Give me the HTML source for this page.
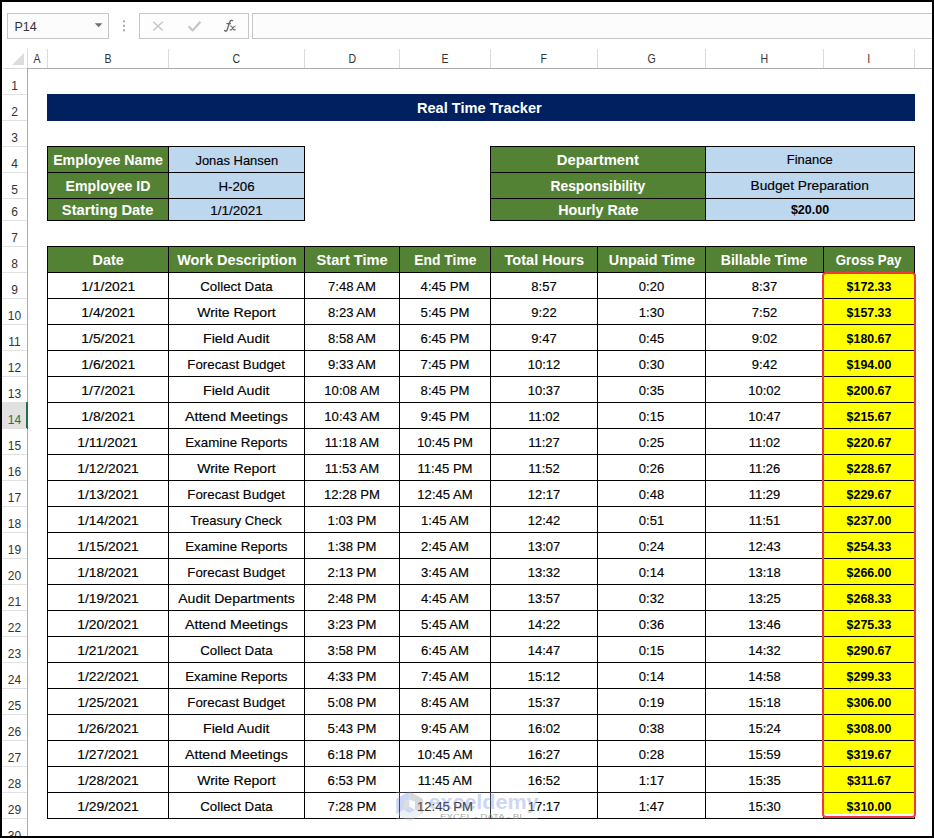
<!DOCTYPE html>
<html><head><meta charset="utf-8"><style>
html,body{margin:0;padding:0;}
body{width:934px;height:838px;overflow:hidden;position:relative;background:#fff;font-family:"Liberation Sans",sans-serif;}
body>div,body>svg{position:absolute;}
.t{line-height:1;white-space:nowrap;}
.r{-webkit-text-stroke:0.15px #000;}
</style></head><body>
<div style="left:7px;top:13px;width:100px;height:24px;border:1px solid #c6c6c6;background:#fcfcfc"></div>
<div class="t" style="left:14.5px;top:21px;width:45.5px;font-size:12.5px;color:#333;text-align:left;"><span style="display:inline-block;">P14</span></div>
<svg style="left:0;top:0" width="260" height="40"><path d="M94.8 23.3 L102.4 23.3 L98.6 27.3 Z" fill="#6f6f6f"/><rect x="123" y="20.3" width="2" height="2" fill="#a8a8a8"/><rect x="123" y="24.8" width="2" height="2" fill="#a8a8a8"/><rect x="123" y="29.3" width="2" height="2" fill="#a8a8a8"/></svg>
<div style="left:139px;top:13px;width:108px;height:24px;border:1px solid #c6c6c6;background:#fdfdfd"></div>
<svg style="left:0;top:0" width="260" height="40"><path d="M153.3 21.8 L162.8 30.5 M162.8 21.8 L153.3 30.5" stroke="#c6c6c6" stroke-width="1.5" fill="none"/><path d="M188.6 26.3 L192.6 30.4 L200.4 21.8" stroke="#c6c6c6" stroke-width="2.2" fill="none" stroke-linejoin="round"/><path d="M224.6 30.6 Q226.2 32.3 227.4 29.2 L229.6 22.3 Q230.6 19.6 232.6 20.6" stroke="#6a6a6a" stroke-width="1.4" fill="none" stroke-linecap="round"/><path d="M226.3 23.6 L230.9 23.6" stroke="#6a6a6a" stroke-width="1.2" fill="none"/><path d="M230.2 26.1 Q231.6 25.6 232.3 27.4 L233.2 29.3 Q234 30.3 235.6 29.4 M235.6 26.1 Q234.5 25.8 233.2 27.6 L231.6 29.5 Q230.8 30.3 229.7 29.8" stroke="#6a6a6a" stroke-width="1.1" fill="none"/></svg>
<div style="left:252px;top:13px;width:690px;height:24px;border:1px solid #c6c6c6;background:#fcfcfc"></div>
<div style="left:47px;top:49px;width:1px;height:19px;background:#dadada;"></div>
<div class="t" style="left:28px;top:53px;width:19px;font-size:12px;color:#333;text-align:center;"><span style="display:inline-block;transform:scaleX(0.88);">A</span></div>
<div style="left:168px;top:49px;width:1px;height:19px;background:#dadada;"></div>
<div class="t" style="left:48px;top:53px;width:120px;font-size:12px;color:#333;text-align:center;"><span style="display:inline-block;transform:scaleX(0.88);">B</span></div>
<div style="left:304px;top:49px;width:1px;height:19px;background:#dadada;"></div>
<div class="t" style="left:169px;top:53px;width:135px;font-size:12px;color:#333;text-align:center;"><span style="display:inline-block;transform:scaleX(0.88);">C</span></div>
<div style="left:399px;top:49px;width:1px;height:19px;background:#dadada;"></div>
<div class="t" style="left:305px;top:53px;width:94px;font-size:12px;color:#333;text-align:center;"><span style="display:inline-block;transform:scaleX(0.88);">D</span></div>
<div style="left:490px;top:49px;width:1px;height:19px;background:#dadada;"></div>
<div class="t" style="left:400px;top:53px;width:90px;font-size:12px;color:#333;text-align:center;"><span style="display:inline-block;transform:scaleX(0.88);">E</span></div>
<div style="left:597px;top:49px;width:1px;height:19px;background:#dadada;"></div>
<div class="t" style="left:491px;top:53px;width:106px;font-size:12px;color:#333;text-align:center;"><span style="display:inline-block;transform:scaleX(0.88);">F</span></div>
<div style="left:705px;top:49px;width:1px;height:19px;background:#dadada;"></div>
<div class="t" style="left:598px;top:53px;width:107px;font-size:12px;color:#333;text-align:center;"><span style="display:inline-block;transform:scaleX(0.88);">G</span></div>
<div style="left:823px;top:49px;width:1px;height:19px;background:#dadada;"></div>
<div class="t" style="left:706px;top:53px;width:117px;font-size:12px;color:#333;text-align:center;"><span style="display:inline-block;transform:scaleX(0.88);">H</span></div>
<div style="left:914px;top:49px;width:1px;height:19px;background:#dadada;"></div>
<div class="t" style="left:824px;top:53px;width:90px;font-size:12px;color:#333;text-align:center;"><span style="display:inline-block;transform:scaleX(0.88);">I</span></div>
<div style="left:27px;top:49px;width:1px;height:19px;background:#dadada;"></div>
<svg style="left:12px;top:53px" width="12" height="12"><path d="M12 0 L12 12 L0 12 Z" fill="#dcdcdc"/></svg>
<div style="left:3px;top:68px;width:24px;height:1px;background:#dadada;"></div>
<div style="left:27px;top:68px;width:905px;height:1px;background:#ababab;"></div>
<div style="left:27px;top:68px;width:1px;height:768px;background:#ababab;"></div>
<div class="t" style="left:2px;top:80px;width:25px;font-size:12px;color:#333;text-align:center;"><span style="display:inline-block;">1</span></div>
<div style="left:2px;top:94px;width:25px;height:1px;background:#e1e1e1;"></div>
<div class="t" style="left:2px;top:106px;width:25px;font-size:12px;color:#333;text-align:center;"><span style="display:inline-block;">2</span></div>
<div style="left:2px;top:120px;width:25px;height:1px;background:#e1e1e1;"></div>
<div class="t" style="left:2px;top:132px;width:25px;font-size:12px;color:#333;text-align:center;"><span style="display:inline-block;">3</span></div>
<div style="left:2px;top:146px;width:25px;height:1px;background:#e1e1e1;"></div>
<div class="t" style="left:2px;top:158px;width:25px;font-size:12px;color:#333;text-align:center;"><span style="display:inline-block;">4</span></div>
<div style="left:2px;top:172px;width:25px;height:1px;background:#e1e1e1;"></div>
<div class="t" style="left:2px;top:184px;width:25px;font-size:12px;color:#333;text-align:center;"><span style="display:inline-block;">5</span></div>
<div style="left:2px;top:198px;width:25px;height:1px;background:#e1e1e1;"></div>
<div class="t" style="left:2px;top:206px;width:25px;font-size:12px;color:#333;text-align:center;"><span style="display:inline-block;">6</span></div>
<div style="left:2px;top:220px;width:25px;height:1px;background:#e1e1e1;"></div>
<div class="t" style="left:2px;top:232px;width:25px;font-size:12px;color:#333;text-align:center;"><span style="display:inline-block;">7</span></div>
<div style="left:2px;top:246px;width:25px;height:1px;background:#e1e1e1;"></div>
<div class="t" style="left:2px;top:258px;width:25px;font-size:12px;color:#333;text-align:center;"><span style="display:inline-block;">8</span></div>
<div style="left:2px;top:272px;width:25px;height:1px;background:#e1e1e1;"></div>
<div class="t" style="left:2px;top:284px;width:25px;font-size:12px;color:#333;text-align:center;"><span style="display:inline-block;">9</span></div>
<div style="left:2px;top:298px;width:25px;height:1px;background:#e1e1e1;"></div>
<div class="t" style="left:2px;top:310px;width:25px;font-size:12px;color:#333;text-align:center;"><span style="display:inline-block;">10</span></div>
<div style="left:2px;top:324px;width:25px;height:1px;background:#e1e1e1;"></div>
<div class="t" style="left:2px;top:336px;width:25px;font-size:12px;color:#333;text-align:center;"><span style="display:inline-block;">11</span></div>
<div style="left:2px;top:350px;width:25px;height:1px;background:#e1e1e1;"></div>
<div class="t" style="left:2px;top:362px;width:25px;font-size:12px;color:#333;text-align:center;"><span style="display:inline-block;">12</span></div>
<div style="left:2px;top:376px;width:25px;height:1px;background:#e1e1e1;"></div>
<div class="t" style="left:2px;top:388px;width:25px;font-size:12px;color:#333;text-align:center;"><span style="display:inline-block;">13</span></div>
<div style="left:2px;top:402px;width:25px;height:1px;background:#e1e1e1;"></div>
<div style="left:2px;top:403px;width:24px;height:25px;background:#e1e1e1;"></div>
<div style="left:26px;top:402px;width:2px;height:27px;background:#217346;"></div>
<div class="t" style="left:2px;top:414px;width:25px;font-size:12px;color:#217346;text-align:center;"><span style="display:inline-block;">14</span></div>
<div style="left:2px;top:428px;width:25px;height:1px;background:#e1e1e1;"></div>
<div class="t" style="left:2px;top:440px;width:25px;font-size:12px;color:#333;text-align:center;"><span style="display:inline-block;">15</span></div>
<div style="left:2px;top:454px;width:25px;height:1px;background:#e1e1e1;"></div>
<div class="t" style="left:2px;top:466px;width:25px;font-size:12px;color:#333;text-align:center;"><span style="display:inline-block;">16</span></div>
<div style="left:2px;top:480px;width:25px;height:1px;background:#e1e1e1;"></div>
<div class="t" style="left:2px;top:492px;width:25px;font-size:12px;color:#333;text-align:center;"><span style="display:inline-block;">17</span></div>
<div style="left:2px;top:506px;width:25px;height:1px;background:#e1e1e1;"></div>
<div class="t" style="left:2px;top:518px;width:25px;font-size:12px;color:#333;text-align:center;"><span style="display:inline-block;">18</span></div>
<div style="left:2px;top:532px;width:25px;height:1px;background:#e1e1e1;"></div>
<div class="t" style="left:2px;top:544px;width:25px;font-size:12px;color:#333;text-align:center;"><span style="display:inline-block;">19</span></div>
<div style="left:2px;top:558px;width:25px;height:1px;background:#e1e1e1;"></div>
<div class="t" style="left:2px;top:570px;width:25px;font-size:12px;color:#333;text-align:center;"><span style="display:inline-block;">20</span></div>
<div style="left:2px;top:584px;width:25px;height:1px;background:#e1e1e1;"></div>
<div class="t" style="left:2px;top:596px;width:25px;font-size:12px;color:#333;text-align:center;"><span style="display:inline-block;">21</span></div>
<div style="left:2px;top:610px;width:25px;height:1px;background:#e1e1e1;"></div>
<div class="t" style="left:2px;top:622px;width:25px;font-size:12px;color:#333;text-align:center;"><span style="display:inline-block;">22</span></div>
<div style="left:2px;top:636px;width:25px;height:1px;background:#e1e1e1;"></div>
<div class="t" style="left:2px;top:648px;width:25px;font-size:12px;color:#333;text-align:center;"><span style="display:inline-block;">23</span></div>
<div style="left:2px;top:662px;width:25px;height:1px;background:#e1e1e1;"></div>
<div class="t" style="left:2px;top:674px;width:25px;font-size:12px;color:#333;text-align:center;"><span style="display:inline-block;">24</span></div>
<div style="left:2px;top:688px;width:25px;height:1px;background:#e1e1e1;"></div>
<div class="t" style="left:2px;top:700px;width:25px;font-size:12px;color:#333;text-align:center;"><span style="display:inline-block;">25</span></div>
<div style="left:2px;top:714px;width:25px;height:1px;background:#e1e1e1;"></div>
<div class="t" style="left:2px;top:726px;width:25px;font-size:12px;color:#333;text-align:center;"><span style="display:inline-block;">26</span></div>
<div style="left:2px;top:740px;width:25px;height:1px;background:#e1e1e1;"></div>
<div class="t" style="left:2px;top:752px;width:25px;font-size:12px;color:#333;text-align:center;"><span style="display:inline-block;">27</span></div>
<div style="left:2px;top:766px;width:25px;height:1px;background:#e1e1e1;"></div>
<div class="t" style="left:2px;top:778px;width:25px;font-size:12px;color:#333;text-align:center;"><span style="display:inline-block;">28</span></div>
<div style="left:2px;top:792px;width:25px;height:1px;background:#e1e1e1;"></div>
<div class="t" style="left:2px;top:804px;width:25px;font-size:12px;color:#333;text-align:center;"><span style="display:inline-block;">29</span></div>
<div style="left:2px;top:818px;width:25px;height:1px;background:#e1e1e1;"></div>
<div class="t" style="left:2px;top:830px;width:25px;font-size:12px;color:#333;text-align:center;"><span style="display:inline-block;">30</span></div>
<div style="left:2px;top:844px;width:25px;height:1px;background:#e1e1e1;"></div>
<div style="left:47px;top:94px;width:868px;height:27px;background:#002060;"></div>
<div class="t" style="left:45px;top:100px;width:868px;font-size:15.3px;font-weight:bold;color:#fff;text-align:center;"><span style="display:inline-block;transform:scaleX(0.955);">Real Time Tracker</span></div>
<div style="left:47px;top:146px;width:122px;height:27px;background:#000;"></div>
<div style="left:48px;top:147px;width:120px;height:25px;background:#548235;"></div>
<div class="t" style="left:48px;top:153px;width:120px;font-size:14.0px;font-weight:bold;color:#fff;text-align:center;"><span style="display:inline-block;transform:scaleX(1.016);">Employee Name</span></div>
<div style="left:168px;top:146px;width:137px;height:27px;background:#000;"></div>
<div style="left:169px;top:147px;width:135px;height:25px;background:#bdd7ee;"></div>
<div class="t r" style="left:169px;top:154px;width:135px;font-size:13.4px;color:#000;text-align:center;"><span style="display:inline-block;transform:scaleX(0.966);">Jonas Hansen</span></div>
<div style="left:47px;top:172px;width:122px;height:27px;background:#000;"></div>
<div style="left:48px;top:173px;width:120px;height:25px;background:#548235;"></div>
<div class="t" style="left:48px;top:179px;width:120px;font-size:14.0px;font-weight:bold;color:#fff;text-align:center;"><span style="display:inline-block;transform:scaleX(1.01);">Employee ID</span></div>
<div style="left:168px;top:172px;width:137px;height:27px;background:#000;"></div>
<div style="left:169px;top:173px;width:135px;height:25px;background:#bdd7ee;"></div>
<div class="t r" style="left:169px;top:180px;width:135px;font-size:13.3px;color:#000;text-align:center;"><span style="display:inline-block;">H-206</span></div>
<div style="left:47px;top:198px;width:122px;height:23px;background:#000;"></div>
<div style="left:48px;top:199px;width:120px;height:21px;background:#548235;"></div>
<div class="t" style="left:48px;top:203px;width:120px;font-size:14.0px;font-weight:bold;color:#fff;text-align:center;"><span style="display:inline-block;transform:scaleX(1.05);">Starting Date</span></div>
<div style="left:168px;top:198px;width:137px;height:23px;background:#000;"></div>
<div style="left:169px;top:199px;width:135px;height:21px;background:#bdd7ee;"></div>
<div class="t r" style="left:169px;top:204px;width:135px;font-size:13.5px;color:#000;text-align:center;"><span style="display:inline-block;">1/1/2021</span></div>
<div style="left:490px;top:146px;width:216px;height:27px;background:#000;"></div>
<div style="left:491px;top:147px;width:214px;height:25px;background:#548235;"></div>
<div class="t" style="left:491px;top:153px;width:214px;font-size:14.0px;font-weight:bold;color:#fff;text-align:center;"><span style="display:inline-block;transform:scaleX(1.056);">Department</span></div>
<div style="left:705px;top:146px;width:210px;height:27px;background:#000;"></div>
<div style="left:706px;top:147px;width:208px;height:25px;background:#bdd7ee;"></div>
<div class="t r" style="left:706px;top:153px;width:208px;font-size:13.4px;color:#000;text-align:center;"><span style="display:inline-block;transform:scaleX(0.965);">Finance</span></div>
<div style="left:490px;top:172px;width:216px;height:27px;background:#000;"></div>
<div style="left:491px;top:173px;width:214px;height:25px;background:#548235;"></div>
<div class="t" style="left:491px;top:179px;width:214px;font-size:14.0px;font-weight:bold;color:#fff;text-align:center;"><span style="display:inline-block;transform:scaleX(0.992);">Responsibility</span></div>
<div style="left:705px;top:172px;width:210px;height:27px;background:#000;"></div>
<div style="left:706px;top:173px;width:208px;height:25px;background:#bdd7ee;"></div>
<div class="t r" style="left:706px;top:179px;width:208px;font-size:13.4px;color:#000;text-align:center;"><span style="display:inline-block;transform:scaleX(1.025);">Budget Preparation</span></div>
<div style="left:490px;top:198px;width:216px;height:23px;background:#000;"></div>
<div style="left:491px;top:199px;width:214px;height:21px;background:#548235;"></div>
<div class="t" style="left:491px;top:203px;width:214px;font-size:14.0px;font-weight:bold;color:#fff;text-align:center;"><span style="display:inline-block;transform:scaleX(1.022);">Hourly Rate</span></div>
<div style="left:705px;top:198px;width:210px;height:23px;background:#000;"></div>
<div style="left:706px;top:199px;width:208px;height:21px;background:#bdd7ee;"></div>
<div class="t" style="left:706px;top:204px;width:208px;font-size:12.5px;font-weight:bold;color:#000;text-align:center;"><span style="display:inline-block;">$20.00</span></div>
<div style="left:47px;top:246px;width:122px;height:27px;background:#000;"></div>
<div style="left:48px;top:247px;width:120px;height:25px;background:#548235;"></div>
<div class="t" style="left:48px;top:253px;width:120px;font-size:14.0px;font-weight:bold;color:#fff;text-align:center;"><span style="display:inline-block;transform:scaleX(1.025);">Date</span></div>
<div style="left:168px;top:246px;width:137px;height:27px;background:#000;"></div>
<div style="left:169px;top:247px;width:135px;height:25px;background:#548235;"></div>
<div class="t" style="left:169px;top:253px;width:135px;font-size:14.0px;font-weight:bold;color:#fff;text-align:center;"><span style="display:inline-block;transform:scaleX(1.032);">Work Description</span></div>
<div style="left:304px;top:246px;width:96px;height:27px;background:#000;"></div>
<div style="left:305px;top:247px;width:94px;height:25px;background:#548235;"></div>
<div class="t" style="left:305px;top:253px;width:94px;font-size:14.0px;font-weight:bold;color:#fff;text-align:center;"><span style="display:inline-block;transform:scaleX(1.042);">Start Time</span></div>
<div style="left:399px;top:246px;width:92px;height:27px;background:#000;"></div>
<div style="left:400px;top:247px;width:90px;height:25px;background:#548235;"></div>
<div class="t" style="left:400px;top:253px;width:90px;font-size:14.0px;font-weight:bold;color:#fff;text-align:center;"><span style="display:inline-block;transform:scaleX(0.99);">End Time</span></div>
<div style="left:490px;top:246px;width:108px;height:27px;background:#000;"></div>
<div style="left:491px;top:247px;width:106px;height:25px;background:#548235;"></div>
<div class="t" style="left:491px;top:253px;width:106px;font-size:14.0px;font-weight:bold;color:#fff;text-align:center;"><span style="display:inline-block;transform:scaleX(1.037);">Total Hours</span></div>
<div style="left:597px;top:246px;width:109px;height:27px;background:#000;"></div>
<div style="left:598px;top:247px;width:107px;height:25px;background:#548235;"></div>
<div class="t" style="left:598px;top:253px;width:107px;font-size:14.0px;font-weight:bold;color:#fff;text-align:center;"><span style="display:inline-block;transform:scaleX(1.027);">Unpaid Time</span></div>
<div style="left:705px;top:246px;width:119px;height:27px;background:#000;"></div>
<div style="left:706px;top:247px;width:117px;height:25px;background:#548235;"></div>
<div class="t" style="left:706px;top:253px;width:117px;font-size:14.0px;font-weight:bold;color:#fff;text-align:center;"><span style="display:inline-block;transform:scaleX(1.005);">Billable Time</span></div>
<div style="left:823px;top:246px;width:92px;height:27px;background:#000;"></div>
<div style="left:824px;top:247px;width:90px;height:25px;background:#548235;"></div>
<div class="t" style="left:824px;top:253px;width:90px;font-size:14.0px;font-weight:bold;color:#fff;text-align:center;"><span style="display:inline-block;transform:scaleX(0.948);">Gross Pay</span></div>
<div style="left:824px;top:273px;width:90px;height:25px;background:#ffff00;"></div>
<div style="left:824px;top:299px;width:90px;height:25px;background:#ffff00;"></div>
<div style="left:824px;top:325px;width:90px;height:25px;background:#ffff00;"></div>
<div style="left:824px;top:351px;width:90px;height:25px;background:#ffff00;"></div>
<div style="left:824px;top:377px;width:90px;height:25px;background:#ffff00;"></div>
<div style="left:824px;top:403px;width:90px;height:25px;background:#ffff00;"></div>
<div style="left:824px;top:429px;width:90px;height:25px;background:#ffff00;"></div>
<div style="left:824px;top:455px;width:90px;height:25px;background:#ffff00;"></div>
<div style="left:824px;top:481px;width:90px;height:25px;background:#ffff00;"></div>
<div style="left:824px;top:507px;width:90px;height:25px;background:#ffff00;"></div>
<div style="left:824px;top:533px;width:90px;height:25px;background:#ffff00;"></div>
<div style="left:824px;top:559px;width:90px;height:25px;background:#ffff00;"></div>
<div style="left:824px;top:585px;width:90px;height:25px;background:#ffff00;"></div>
<div style="left:824px;top:611px;width:90px;height:25px;background:#ffff00;"></div>
<div style="left:824px;top:637px;width:90px;height:25px;background:#ffff00;"></div>
<div style="left:824px;top:663px;width:90px;height:25px;background:#ffff00;"></div>
<div style="left:824px;top:689px;width:90px;height:25px;background:#ffff00;"></div>
<div style="left:824px;top:715px;width:90px;height:25px;background:#ffff00;"></div>
<div style="left:824px;top:741px;width:90px;height:25px;background:#ffff00;"></div>
<div style="left:824px;top:767px;width:90px;height:25px;background:#ffff00;"></div>
<div style="left:824px;top:793px;width:90px;height:21px;background:#ffff00;"></div>
<div style="left:47px;top:298px;width:868px;height:1px;background:#000;"></div>
<div style="left:47px;top:324px;width:868px;height:1px;background:#000;"></div>
<div style="left:47px;top:350px;width:868px;height:1px;background:#000;"></div>
<div style="left:47px;top:376px;width:868px;height:1px;background:#000;"></div>
<div style="left:47px;top:402px;width:868px;height:1px;background:#000;"></div>
<div style="left:47px;top:428px;width:868px;height:1px;background:#000;"></div>
<div style="left:47px;top:454px;width:868px;height:1px;background:#000;"></div>
<div style="left:47px;top:480px;width:868px;height:1px;background:#000;"></div>
<div style="left:47px;top:506px;width:868px;height:1px;background:#000;"></div>
<div style="left:47px;top:532px;width:868px;height:1px;background:#000;"></div>
<div style="left:47px;top:558px;width:868px;height:1px;background:#000;"></div>
<div style="left:47px;top:584px;width:868px;height:1px;background:#000;"></div>
<div style="left:47px;top:610px;width:868px;height:1px;background:#000;"></div>
<div style="left:47px;top:636px;width:868px;height:1px;background:#000;"></div>
<div style="left:47px;top:662px;width:868px;height:1px;background:#000;"></div>
<div style="left:47px;top:688px;width:868px;height:1px;background:#000;"></div>
<div style="left:47px;top:714px;width:868px;height:1px;background:#000;"></div>
<div style="left:47px;top:740px;width:868px;height:1px;background:#000;"></div>
<div style="left:47px;top:766px;width:868px;height:1px;background:#000;"></div>
<div style="left:47px;top:792px;width:868px;height:1px;background:#000;"></div>
<div style="left:47px;top:818px;width:868px;height:1px;background:#000;"></div>
<div style="left:47px;top:272px;width:1px;height:547px;background:#000;"></div>
<div style="left:168px;top:272px;width:1px;height:547px;background:#000;"></div>
<div style="left:304px;top:272px;width:1px;height:547px;background:#000;"></div>
<div style="left:399px;top:272px;width:1px;height:547px;background:#000;"></div>
<div style="left:490px;top:272px;width:1px;height:547px;background:#000;"></div>
<div style="left:597px;top:272px;width:1px;height:547px;background:#000;"></div>
<div style="left:705px;top:272px;width:1px;height:547px;background:#000;"></div>
<div style="left:823px;top:272px;width:1px;height:547px;background:#000;"></div>
<div style="left:914px;top:272px;width:1px;height:547px;background:#000;"></div>
<div class="t r" style="left:48px;top:280px;width:120px;font-size:13.5px;color:#000;text-align:center;"><span style="display:inline-block;transform:scaleX(1.025);">1/1/2021</span></div>
<div class="t r" style="left:169px;top:280px;width:135px;font-size:13.4px;color:#000;text-align:center;"><span style="display:inline-block;transform:scaleX(0.993);">Collect Data</span></div>
<div class="t r" style="left:305px;top:280px;width:94px;font-size:13.1px;color:#000;text-align:center;"><span style="display:inline-block;">7:48 AM</span></div>
<div class="t r" style="left:400px;top:280px;width:90px;font-size:13.1px;color:#000;text-align:center;"><span style="display:inline-block;">4:45 PM</span></div>
<div class="t r" style="left:491px;top:280px;width:106px;font-size:13.0px;color:#000;text-align:center;"><span style="display:inline-block;">8:57</span></div>
<div class="t r" style="left:598px;top:280px;width:107px;font-size:13.0px;color:#000;text-align:center;"><span style="display:inline-block;">0:20</span></div>
<div class="t r" style="left:706px;top:280px;width:117px;font-size:13.0px;color:#000;text-align:center;"><span style="display:inline-block;">8:37</span></div>
<div class="t" style="left:824px;top:281px;width:90px;font-size:12.4px;font-weight:bold;color:#000;text-align:center;"><span style="display:inline-block;">$172.33</span></div>
<div class="t r" style="left:48px;top:306px;width:120px;font-size:13.5px;color:#000;text-align:center;"><span style="display:inline-block;transform:scaleX(1.025);">1/4/2021</span></div>
<div class="t r" style="left:169px;top:306px;width:135px;font-size:13.4px;color:#000;text-align:center;"><span style="display:inline-block;transform:scaleX(1.049);">Write Report</span></div>
<div class="t r" style="left:305px;top:306px;width:94px;font-size:13.1px;color:#000;text-align:center;"><span style="display:inline-block;">8:23 AM</span></div>
<div class="t r" style="left:400px;top:306px;width:90px;font-size:13.1px;color:#000;text-align:center;"><span style="display:inline-block;">5:45 PM</span></div>
<div class="t r" style="left:491px;top:306px;width:106px;font-size:13.0px;color:#000;text-align:center;"><span style="display:inline-block;">9:22</span></div>
<div class="t r" style="left:598px;top:306px;width:107px;font-size:13.0px;color:#000;text-align:center;"><span style="display:inline-block;">1:30</span></div>
<div class="t r" style="left:706px;top:306px;width:117px;font-size:13.0px;color:#000;text-align:center;"><span style="display:inline-block;">7:52</span></div>
<div class="t" style="left:824px;top:307px;width:90px;font-size:12.4px;font-weight:bold;color:#000;text-align:center;"><span style="display:inline-block;">$157.33</span></div>
<div class="t r" style="left:48px;top:332px;width:120px;font-size:13.5px;color:#000;text-align:center;"><span style="display:inline-block;transform:scaleX(1.025);">1/5/2021</span></div>
<div class="t r" style="left:169px;top:332px;width:135px;font-size:13.4px;color:#000;text-align:center;"><span style="display:inline-block;transform:scaleX(1.064);">Field Audit</span></div>
<div class="t r" style="left:305px;top:332px;width:94px;font-size:13.1px;color:#000;text-align:center;"><span style="display:inline-block;">8:58 AM</span></div>
<div class="t r" style="left:400px;top:332px;width:90px;font-size:13.1px;color:#000;text-align:center;"><span style="display:inline-block;">6:45 PM</span></div>
<div class="t r" style="left:491px;top:332px;width:106px;font-size:13.0px;color:#000;text-align:center;"><span style="display:inline-block;">9:47</span></div>
<div class="t r" style="left:598px;top:332px;width:107px;font-size:13.0px;color:#000;text-align:center;"><span style="display:inline-block;">0:45</span></div>
<div class="t r" style="left:706px;top:332px;width:117px;font-size:13.0px;color:#000;text-align:center;"><span style="display:inline-block;">9:02</span></div>
<div class="t" style="left:824px;top:333px;width:90px;font-size:12.4px;font-weight:bold;color:#000;text-align:center;"><span style="display:inline-block;">$180.67</span></div>
<div class="t r" style="left:48px;top:358px;width:120px;font-size:13.5px;color:#000;text-align:center;"><span style="display:inline-block;transform:scaleX(1.025);">1/6/2021</span></div>
<div class="t r" style="left:169px;top:358px;width:135px;font-size:13.4px;color:#000;text-align:center;"><span style="display:inline-block;transform:scaleX(0.994);">Forecast Budget</span></div>
<div class="t r" style="left:305px;top:358px;width:94px;font-size:13.1px;color:#000;text-align:center;"><span style="display:inline-block;">9:33 AM</span></div>
<div class="t r" style="left:400px;top:358px;width:90px;font-size:13.1px;color:#000;text-align:center;"><span style="display:inline-block;">7:45 PM</span></div>
<div class="t r" style="left:491px;top:358px;width:106px;font-size:13.0px;color:#000;text-align:center;"><span style="display:inline-block;">10:12</span></div>
<div class="t r" style="left:598px;top:358px;width:107px;font-size:13.0px;color:#000;text-align:center;"><span style="display:inline-block;">0:30</span></div>
<div class="t r" style="left:706px;top:358px;width:117px;font-size:13.0px;color:#000;text-align:center;"><span style="display:inline-block;">9:42</span></div>
<div class="t" style="left:824px;top:359px;width:90px;font-size:12.4px;font-weight:bold;color:#000;text-align:center;"><span style="display:inline-block;">$194.00</span></div>
<div class="t r" style="left:48px;top:384px;width:120px;font-size:13.5px;color:#000;text-align:center;"><span style="display:inline-block;transform:scaleX(1.025);">1/7/2021</span></div>
<div class="t r" style="left:169px;top:384px;width:135px;font-size:13.4px;color:#000;text-align:center;"><span style="display:inline-block;transform:scaleX(1.064);">Field Audit</span></div>
<div class="t r" style="left:305px;top:384px;width:94px;font-size:13.1px;color:#000;text-align:center;"><span style="display:inline-block;">10:08 AM</span></div>
<div class="t r" style="left:400px;top:384px;width:90px;font-size:13.1px;color:#000;text-align:center;"><span style="display:inline-block;">8:45 PM</span></div>
<div class="t r" style="left:491px;top:384px;width:106px;font-size:13.0px;color:#000;text-align:center;"><span style="display:inline-block;">10:37</span></div>
<div class="t r" style="left:598px;top:384px;width:107px;font-size:13.0px;color:#000;text-align:center;"><span style="display:inline-block;">0:35</span></div>
<div class="t r" style="left:706px;top:384px;width:117px;font-size:13.0px;color:#000;text-align:center;"><span style="display:inline-block;">10:02</span></div>
<div class="t" style="left:824px;top:385px;width:90px;font-size:12.4px;font-weight:bold;color:#000;text-align:center;"><span style="display:inline-block;">$200.67</span></div>
<div class="t r" style="left:48px;top:410px;width:120px;font-size:13.5px;color:#000;text-align:center;"><span style="display:inline-block;transform:scaleX(1.025);">1/8/2021</span></div>
<div class="t r" style="left:169px;top:410px;width:135px;font-size:13.4px;color:#000;text-align:center;"><span style="display:inline-block;transform:scaleX(1.063);">Attend Meetings</span></div>
<div class="t r" style="left:305px;top:410px;width:94px;font-size:13.1px;color:#000;text-align:center;"><span style="display:inline-block;">10:43 AM</span></div>
<div class="t r" style="left:400px;top:410px;width:90px;font-size:13.1px;color:#000;text-align:center;"><span style="display:inline-block;">9:45 PM</span></div>
<div class="t r" style="left:491px;top:410px;width:106px;font-size:13.0px;color:#000;text-align:center;"><span style="display:inline-block;">11:02</span></div>
<div class="t r" style="left:598px;top:410px;width:107px;font-size:13.0px;color:#000;text-align:center;"><span style="display:inline-block;">0:15</span></div>
<div class="t r" style="left:706px;top:410px;width:117px;font-size:13.0px;color:#000;text-align:center;"><span style="display:inline-block;">10:47</span></div>
<div class="t" style="left:824px;top:411px;width:90px;font-size:12.4px;font-weight:bold;color:#000;text-align:center;"><span style="display:inline-block;">$215.67</span></div>
<div class="t r" style="left:48px;top:436px;width:120px;font-size:13.5px;color:#000;text-align:center;"><span style="display:inline-block;transform:scaleX(1.025);">1/11/2021</span></div>
<div class="t r" style="left:169px;top:436px;width:135px;font-size:13.4px;color:#000;text-align:center;"><span style="display:inline-block;transform:scaleX(0.996);">Examine Reports</span></div>
<div class="t r" style="left:305px;top:436px;width:94px;font-size:13.1px;color:#000;text-align:center;"><span style="display:inline-block;">11:18 AM</span></div>
<div class="t r" style="left:400px;top:436px;width:90px;font-size:13.1px;color:#000;text-align:center;"><span style="display:inline-block;">10:45 PM</span></div>
<div class="t r" style="left:491px;top:436px;width:106px;font-size:13.0px;color:#000;text-align:center;"><span style="display:inline-block;">11:27</span></div>
<div class="t r" style="left:598px;top:436px;width:107px;font-size:13.0px;color:#000;text-align:center;"><span style="display:inline-block;">0:25</span></div>
<div class="t r" style="left:706px;top:436px;width:117px;font-size:13.0px;color:#000;text-align:center;"><span style="display:inline-block;">11:02</span></div>
<div class="t" style="left:824px;top:437px;width:90px;font-size:12.4px;font-weight:bold;color:#000;text-align:center;"><span style="display:inline-block;">$220.67</span></div>
<div class="t r" style="left:48px;top:462px;width:120px;font-size:13.5px;color:#000;text-align:center;"><span style="display:inline-block;transform:scaleX(1.025);">1/12/2021</span></div>
<div class="t r" style="left:169px;top:462px;width:135px;font-size:13.4px;color:#000;text-align:center;"><span style="display:inline-block;transform:scaleX(1.049);">Write Report</span></div>
<div class="t r" style="left:305px;top:462px;width:94px;font-size:13.1px;color:#000;text-align:center;"><span style="display:inline-block;">11:53 AM</span></div>
<div class="t r" style="left:400px;top:462px;width:90px;font-size:13.1px;color:#000;text-align:center;"><span style="display:inline-block;">11:45 PM</span></div>
<div class="t r" style="left:491px;top:462px;width:106px;font-size:13.0px;color:#000;text-align:center;"><span style="display:inline-block;">11:52</span></div>
<div class="t r" style="left:598px;top:462px;width:107px;font-size:13.0px;color:#000;text-align:center;"><span style="display:inline-block;">0:26</span></div>
<div class="t r" style="left:706px;top:462px;width:117px;font-size:13.0px;color:#000;text-align:center;"><span style="display:inline-block;">11:26</span></div>
<div class="t" style="left:824px;top:463px;width:90px;font-size:12.4px;font-weight:bold;color:#000;text-align:center;"><span style="display:inline-block;">$228.67</span></div>
<div class="t r" style="left:48px;top:488px;width:120px;font-size:13.5px;color:#000;text-align:center;"><span style="display:inline-block;transform:scaleX(1.025);">1/13/2021</span></div>
<div class="t r" style="left:169px;top:488px;width:135px;font-size:13.4px;color:#000;text-align:center;"><span style="display:inline-block;transform:scaleX(0.994);">Forecast Budget</span></div>
<div class="t r" style="left:305px;top:488px;width:94px;font-size:13.1px;color:#000;text-align:center;"><span style="display:inline-block;">12:28 PM</span></div>
<div class="t r" style="left:400px;top:488px;width:90px;font-size:13.1px;color:#000;text-align:center;"><span style="display:inline-block;">12:45 AM</span></div>
<div class="t r" style="left:491px;top:488px;width:106px;font-size:13.0px;color:#000;text-align:center;"><span style="display:inline-block;">12:17</span></div>
<div class="t r" style="left:598px;top:488px;width:107px;font-size:13.0px;color:#000;text-align:center;"><span style="display:inline-block;">0:48</span></div>
<div class="t r" style="left:706px;top:488px;width:117px;font-size:13.0px;color:#000;text-align:center;"><span style="display:inline-block;">11:29</span></div>
<div class="t" style="left:824px;top:489px;width:90px;font-size:12.4px;font-weight:bold;color:#000;text-align:center;"><span style="display:inline-block;">$229.67</span></div>
<div class="t r" style="left:48px;top:514px;width:120px;font-size:13.5px;color:#000;text-align:center;"><span style="display:inline-block;transform:scaleX(1.025);">1/14/2021</span></div>
<div class="t r" style="left:169px;top:514px;width:135px;font-size:13.4px;color:#000;text-align:center;"><span style="display:inline-block;transform:scaleX(0.973);">Treasury Check</span></div>
<div class="t r" style="left:305px;top:514px;width:94px;font-size:13.1px;color:#000;text-align:center;"><span style="display:inline-block;">1:03 PM</span></div>
<div class="t r" style="left:400px;top:514px;width:90px;font-size:13.1px;color:#000;text-align:center;"><span style="display:inline-block;">1:45 AM</span></div>
<div class="t r" style="left:491px;top:514px;width:106px;font-size:13.0px;color:#000;text-align:center;"><span style="display:inline-block;">12:42</span></div>
<div class="t r" style="left:598px;top:514px;width:107px;font-size:13.0px;color:#000;text-align:center;"><span style="display:inline-block;">0:51</span></div>
<div class="t r" style="left:706px;top:514px;width:117px;font-size:13.0px;color:#000;text-align:center;"><span style="display:inline-block;">11:51</span></div>
<div class="t" style="left:824px;top:515px;width:90px;font-size:12.4px;font-weight:bold;color:#000;text-align:center;"><span style="display:inline-block;">$237.00</span></div>
<div class="t r" style="left:48px;top:540px;width:120px;font-size:13.5px;color:#000;text-align:center;"><span style="display:inline-block;transform:scaleX(1.025);">1/15/2021</span></div>
<div class="t r" style="left:169px;top:540px;width:135px;font-size:13.4px;color:#000;text-align:center;"><span style="display:inline-block;transform:scaleX(0.996);">Examine Reports</span></div>
<div class="t r" style="left:305px;top:540px;width:94px;font-size:13.1px;color:#000;text-align:center;"><span style="display:inline-block;">1:38 PM</span></div>
<div class="t r" style="left:400px;top:540px;width:90px;font-size:13.1px;color:#000;text-align:center;"><span style="display:inline-block;">2:45 AM</span></div>
<div class="t r" style="left:491px;top:540px;width:106px;font-size:13.0px;color:#000;text-align:center;"><span style="display:inline-block;">13:07</span></div>
<div class="t r" style="left:598px;top:540px;width:107px;font-size:13.0px;color:#000;text-align:center;"><span style="display:inline-block;">0:24</span></div>
<div class="t r" style="left:706px;top:540px;width:117px;font-size:13.0px;color:#000;text-align:center;"><span style="display:inline-block;">12:43</span></div>
<div class="t" style="left:824px;top:541px;width:90px;font-size:12.4px;font-weight:bold;color:#000;text-align:center;"><span style="display:inline-block;">$254.33</span></div>
<div class="t r" style="left:48px;top:566px;width:120px;font-size:13.5px;color:#000;text-align:center;"><span style="display:inline-block;transform:scaleX(1.025);">1/18/2021</span></div>
<div class="t r" style="left:169px;top:566px;width:135px;font-size:13.4px;color:#000;text-align:center;"><span style="display:inline-block;transform:scaleX(0.994);">Forecast Budget</span></div>
<div class="t r" style="left:305px;top:566px;width:94px;font-size:13.1px;color:#000;text-align:center;"><span style="display:inline-block;">2:13 PM</span></div>
<div class="t r" style="left:400px;top:566px;width:90px;font-size:13.1px;color:#000;text-align:center;"><span style="display:inline-block;">3:45 AM</span></div>
<div class="t r" style="left:491px;top:566px;width:106px;font-size:13.0px;color:#000;text-align:center;"><span style="display:inline-block;">13:32</span></div>
<div class="t r" style="left:598px;top:566px;width:107px;font-size:13.0px;color:#000;text-align:center;"><span style="display:inline-block;">0:14</span></div>
<div class="t r" style="left:706px;top:566px;width:117px;font-size:13.0px;color:#000;text-align:center;"><span style="display:inline-block;">13:18</span></div>
<div class="t" style="left:824px;top:567px;width:90px;font-size:12.4px;font-weight:bold;color:#000;text-align:center;"><span style="display:inline-block;">$266.00</span></div>
<div class="t r" style="left:48px;top:592px;width:120px;font-size:13.5px;color:#000;text-align:center;"><span style="display:inline-block;transform:scaleX(1.025);">1/19/2021</span></div>
<div class="t r" style="left:169px;top:592px;width:135px;font-size:13.4px;color:#000;text-align:center;"><span style="display:inline-block;transform:scaleX(1.05);">Audit Departments</span></div>
<div class="t r" style="left:305px;top:592px;width:94px;font-size:13.1px;color:#000;text-align:center;"><span style="display:inline-block;">2:48 PM</span></div>
<div class="t r" style="left:400px;top:592px;width:90px;font-size:13.1px;color:#000;text-align:center;"><span style="display:inline-block;">4:45 AM</span></div>
<div class="t r" style="left:491px;top:592px;width:106px;font-size:13.0px;color:#000;text-align:center;"><span style="display:inline-block;">13:57</span></div>
<div class="t r" style="left:598px;top:592px;width:107px;font-size:13.0px;color:#000;text-align:center;"><span style="display:inline-block;">0:32</span></div>
<div class="t r" style="left:706px;top:592px;width:117px;font-size:13.0px;color:#000;text-align:center;"><span style="display:inline-block;">13:25</span></div>
<div class="t" style="left:824px;top:593px;width:90px;font-size:12.4px;font-weight:bold;color:#000;text-align:center;"><span style="display:inline-block;">$268.33</span></div>
<div class="t r" style="left:48px;top:618px;width:120px;font-size:13.5px;color:#000;text-align:center;"><span style="display:inline-block;transform:scaleX(1.025);">1/20/2021</span></div>
<div class="t r" style="left:169px;top:618px;width:135px;font-size:13.4px;color:#000;text-align:center;"><span style="display:inline-block;transform:scaleX(1.063);">Attend Meetings</span></div>
<div class="t r" style="left:305px;top:618px;width:94px;font-size:13.1px;color:#000;text-align:center;"><span style="display:inline-block;">3:23 PM</span></div>
<div class="t r" style="left:400px;top:618px;width:90px;font-size:13.1px;color:#000;text-align:center;"><span style="display:inline-block;">5:45 AM</span></div>
<div class="t r" style="left:491px;top:618px;width:106px;font-size:13.0px;color:#000;text-align:center;"><span style="display:inline-block;">14:22</span></div>
<div class="t r" style="left:598px;top:618px;width:107px;font-size:13.0px;color:#000;text-align:center;"><span style="display:inline-block;">0:36</span></div>
<div class="t r" style="left:706px;top:618px;width:117px;font-size:13.0px;color:#000;text-align:center;"><span style="display:inline-block;">13:46</span></div>
<div class="t" style="left:824px;top:619px;width:90px;font-size:12.4px;font-weight:bold;color:#000;text-align:center;"><span style="display:inline-block;">$275.33</span></div>
<div class="t r" style="left:48px;top:644px;width:120px;font-size:13.5px;color:#000;text-align:center;"><span style="display:inline-block;transform:scaleX(1.025);">1/21/2021</span></div>
<div class="t r" style="left:169px;top:644px;width:135px;font-size:13.4px;color:#000;text-align:center;"><span style="display:inline-block;transform:scaleX(0.993);">Collect Data</span></div>
<div class="t r" style="left:305px;top:644px;width:94px;font-size:13.1px;color:#000;text-align:center;"><span style="display:inline-block;">3:58 PM</span></div>
<div class="t r" style="left:400px;top:644px;width:90px;font-size:13.1px;color:#000;text-align:center;"><span style="display:inline-block;">6:45 AM</span></div>
<div class="t r" style="left:491px;top:644px;width:106px;font-size:13.0px;color:#000;text-align:center;"><span style="display:inline-block;">14:47</span></div>
<div class="t r" style="left:598px;top:644px;width:107px;font-size:13.0px;color:#000;text-align:center;"><span style="display:inline-block;">0:15</span></div>
<div class="t r" style="left:706px;top:644px;width:117px;font-size:13.0px;color:#000;text-align:center;"><span style="display:inline-block;">14:32</span></div>
<div class="t" style="left:824px;top:645px;width:90px;font-size:12.4px;font-weight:bold;color:#000;text-align:center;"><span style="display:inline-block;">$290.67</span></div>
<div class="t r" style="left:48px;top:670px;width:120px;font-size:13.5px;color:#000;text-align:center;"><span style="display:inline-block;transform:scaleX(1.025);">1/22/2021</span></div>
<div class="t r" style="left:169px;top:670px;width:135px;font-size:13.4px;color:#000;text-align:center;"><span style="display:inline-block;transform:scaleX(0.996);">Examine Reports</span></div>
<div class="t r" style="left:305px;top:670px;width:94px;font-size:13.1px;color:#000;text-align:center;"><span style="display:inline-block;">4:33 PM</span></div>
<div class="t r" style="left:400px;top:670px;width:90px;font-size:13.1px;color:#000;text-align:center;"><span style="display:inline-block;">7:45 AM</span></div>
<div class="t r" style="left:491px;top:670px;width:106px;font-size:13.0px;color:#000;text-align:center;"><span style="display:inline-block;">15:12</span></div>
<div class="t r" style="left:598px;top:670px;width:107px;font-size:13.0px;color:#000;text-align:center;"><span style="display:inline-block;">0:14</span></div>
<div class="t r" style="left:706px;top:670px;width:117px;font-size:13.0px;color:#000;text-align:center;"><span style="display:inline-block;">14:58</span></div>
<div class="t" style="left:824px;top:671px;width:90px;font-size:12.4px;font-weight:bold;color:#000;text-align:center;"><span style="display:inline-block;">$299.33</span></div>
<div class="t r" style="left:48px;top:696px;width:120px;font-size:13.5px;color:#000;text-align:center;"><span style="display:inline-block;transform:scaleX(1.025);">1/25/2021</span></div>
<div class="t r" style="left:169px;top:696px;width:135px;font-size:13.4px;color:#000;text-align:center;"><span style="display:inline-block;transform:scaleX(0.994);">Forecast Budget</span></div>
<div class="t r" style="left:305px;top:696px;width:94px;font-size:13.1px;color:#000;text-align:center;"><span style="display:inline-block;">5:08 PM</span></div>
<div class="t r" style="left:400px;top:696px;width:90px;font-size:13.1px;color:#000;text-align:center;"><span style="display:inline-block;">8:45 AM</span></div>
<div class="t r" style="left:491px;top:696px;width:106px;font-size:13.0px;color:#000;text-align:center;"><span style="display:inline-block;">15:37</span></div>
<div class="t r" style="left:598px;top:696px;width:107px;font-size:13.0px;color:#000;text-align:center;"><span style="display:inline-block;">0:19</span></div>
<div class="t r" style="left:706px;top:696px;width:117px;font-size:13.0px;color:#000;text-align:center;"><span style="display:inline-block;">15:18</span></div>
<div class="t" style="left:824px;top:697px;width:90px;font-size:12.4px;font-weight:bold;color:#000;text-align:center;"><span style="display:inline-block;">$306.00</span></div>
<div class="t r" style="left:48px;top:722px;width:120px;font-size:13.5px;color:#000;text-align:center;"><span style="display:inline-block;transform:scaleX(1.025);">1/26/2021</span></div>
<div class="t r" style="left:169px;top:722px;width:135px;font-size:13.4px;color:#000;text-align:center;"><span style="display:inline-block;transform:scaleX(1.064);">Field Audit</span></div>
<div class="t r" style="left:305px;top:722px;width:94px;font-size:13.1px;color:#000;text-align:center;"><span style="display:inline-block;">5:43 PM</span></div>
<div class="t r" style="left:400px;top:722px;width:90px;font-size:13.1px;color:#000;text-align:center;"><span style="display:inline-block;">9:45 AM</span></div>
<div class="t r" style="left:491px;top:722px;width:106px;font-size:13.0px;color:#000;text-align:center;"><span style="display:inline-block;">16:02</span></div>
<div class="t r" style="left:598px;top:722px;width:107px;font-size:13.0px;color:#000;text-align:center;"><span style="display:inline-block;">0:38</span></div>
<div class="t r" style="left:706px;top:722px;width:117px;font-size:13.0px;color:#000;text-align:center;"><span style="display:inline-block;">15:24</span></div>
<div class="t" style="left:824px;top:723px;width:90px;font-size:12.4px;font-weight:bold;color:#000;text-align:center;"><span style="display:inline-block;">$308.00</span></div>
<div class="t r" style="left:48px;top:748px;width:120px;font-size:13.5px;color:#000;text-align:center;"><span style="display:inline-block;transform:scaleX(1.025);">1/27/2021</span></div>
<div class="t r" style="left:169px;top:748px;width:135px;font-size:13.4px;color:#000;text-align:center;"><span style="display:inline-block;transform:scaleX(1.063);">Attend Meetings</span></div>
<div class="t r" style="left:305px;top:748px;width:94px;font-size:13.1px;color:#000;text-align:center;"><span style="display:inline-block;">6:18 PM</span></div>
<div class="t r" style="left:400px;top:748px;width:90px;font-size:13.1px;color:#000;text-align:center;"><span style="display:inline-block;">10:45 AM</span></div>
<div class="t r" style="left:491px;top:748px;width:106px;font-size:13.0px;color:#000;text-align:center;"><span style="display:inline-block;">16:27</span></div>
<div class="t r" style="left:598px;top:748px;width:107px;font-size:13.0px;color:#000;text-align:center;"><span style="display:inline-block;">0:28</span></div>
<div class="t r" style="left:706px;top:748px;width:117px;font-size:13.0px;color:#000;text-align:center;"><span style="display:inline-block;">15:59</span></div>
<div class="t" style="left:824px;top:749px;width:90px;font-size:12.4px;font-weight:bold;color:#000;text-align:center;"><span style="display:inline-block;">$319.67</span></div>
<div class="t r" style="left:48px;top:774px;width:120px;font-size:13.5px;color:#000;text-align:center;"><span style="display:inline-block;transform:scaleX(1.025);">1/28/2021</span></div>
<div class="t r" style="left:169px;top:774px;width:135px;font-size:13.4px;color:#000;text-align:center;"><span style="display:inline-block;transform:scaleX(1.049);">Write Report</span></div>
<div class="t r" style="left:305px;top:774px;width:94px;font-size:13.1px;color:#000;text-align:center;"><span style="display:inline-block;">6:53 PM</span></div>
<div class="t r" style="left:400px;top:774px;width:90px;font-size:13.1px;color:#000;text-align:center;"><span style="display:inline-block;">11:45 AM</span></div>
<div class="t r" style="left:491px;top:774px;width:106px;font-size:13.0px;color:#000;text-align:center;"><span style="display:inline-block;">16:52</span></div>
<div class="t r" style="left:598px;top:774px;width:107px;font-size:13.0px;color:#000;text-align:center;"><span style="display:inline-block;">1:17</span></div>
<div class="t r" style="left:706px;top:774px;width:117px;font-size:13.0px;color:#000;text-align:center;"><span style="display:inline-block;">15:35</span></div>
<div class="t" style="left:824px;top:775px;width:90px;font-size:12.4px;font-weight:bold;color:#000;text-align:center;"><span style="display:inline-block;">$311.67</span></div>
<div class="t r" style="left:48px;top:800px;width:120px;font-size:13.5px;color:#000;text-align:center;"><span style="display:inline-block;transform:scaleX(1.025);">1/29/2021</span></div>
<div class="t r" style="left:169px;top:800px;width:135px;font-size:13.4px;color:#000;text-align:center;"><span style="display:inline-block;transform:scaleX(0.993);">Collect Data</span></div>
<div class="t r" style="left:305px;top:800px;width:94px;font-size:13.1px;color:#000;text-align:center;"><span style="display:inline-block;">7:28 PM</span></div>
<div class="t r" style="left:400px;top:800px;width:90px;font-size:13.1px;color:#000;text-align:center;"><span style="display:inline-block;">12:45 PM</span></div>
<div class="t r" style="left:491px;top:800px;width:106px;font-size:13.0px;color:#000;text-align:center;"><span style="display:inline-block;">17:17</span></div>
<div class="t r" style="left:598px;top:800px;width:107px;font-size:13.0px;color:#000;text-align:center;"><span style="display:inline-block;">1:47</span></div>
<div class="t r" style="left:706px;top:800px;width:117px;font-size:13.0px;color:#000;text-align:center;"><span style="display:inline-block;">15:30</span></div>
<div class="t" style="left:824px;top:801px;width:90px;font-size:12.4px;font-weight:bold;color:#000;text-align:center;"><span style="display:inline-block;">$310.00</span></div>
<div style="left:822px;top:272px;width:94px;height:546px;box-sizing:border-box;border:2px solid #ee3a3f;border-radius:4px"></div>
<svg style="left:390px;top:786px" width="156" height="40" viewBox="390 786 156 40">
<rect x="396" y="792" width="142" height="27" fill="#fff" opacity="0.22"/>
<g opacity="0.3">
<polygon points="409.5,791.4 422.8,799 422.8,813.5 409.5,821.8 396.3,813.7 396.3,798.5" fill="#c6d0e1"/>
<polygon points="409.5,791.4 396.3,798.5 396.3,813.7 404,809.5 404,801.5 409.5,799.5" fill="#587de8"/>
<polygon points="409.5,791.4 422.8,799 422.8,813.5 415,809.5 415,801.5 409.5,799.5" fill="#7d808a"/>
<polygon points="404,801.5 409.5,800 409.5,808 404,810" fill="#8f939c"/>
<polygon points="409.5,800 415,801.5 415,809.5 409.5,808" fill="#eef0f5"/>
<polygon points="404,810 409.5,806.8 415,810 409.5,813" fill="#587de8"/>
</g>
<text x="428.5" y="808.6" font-family="Liberation Sans" font-weight="bold" font-size="21" fill="#5b7be0" opacity="0.3" textLength="110" lengthAdjust="spacingAndGlyphs">exceldemy</text>
<text x="440" y="818.5" font-family="Liberation Sans" font-size="8" fill="#8a8a8a" opacity="0.7" textLength="82" lengthAdjust="spacingAndGlyphs">EXCEL - DATA - BI</text>
</svg>
<div style="left:0px;top:0px;width:934px;height:2px;background:#000;"></div>
<div style="left:0px;top:836px;width:934px;height:2px;background:#000;"></div>
<div style="left:0px;top:0px;width:2px;height:838px;background:#000;"></div>
<div style="left:932px;top:0px;width:2px;height:838px;background:#000;"></div>
</body></html>
